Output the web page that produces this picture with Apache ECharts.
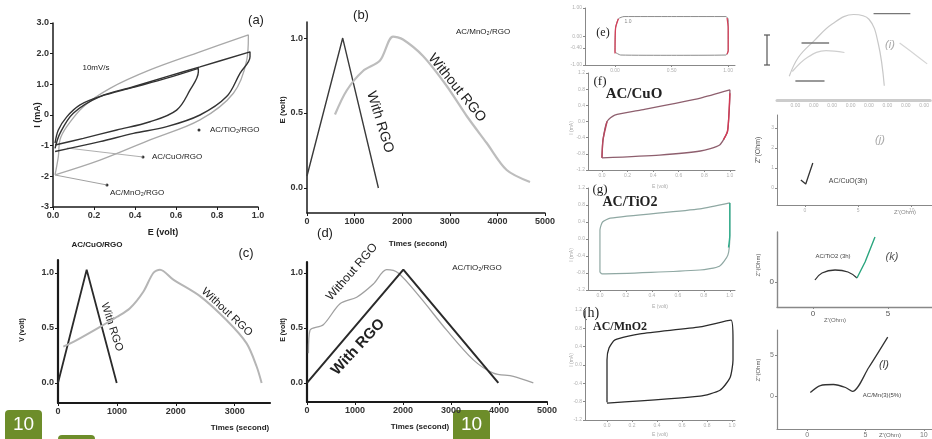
<!DOCTYPE html>
<html>
<head>
<meta charset="utf-8">
<script src="https://cdn.jsdelivr.net/npm/echarts@6/dist/echarts.min.js"></script>
<style>
html, body { margin: 0; background: #fff; }
#chart { width: 932px; height: 439px; }
</style>
</head>
<body>
<div id="chart"></div>
<script>
// (a) cyclic voltammograms at 10 mV/s, [E volt, I mA]
var cvTiO2 = [[0.01,-1.09],[0.034,-0.6],[0.099,0.06],[0.229,0.6],[0.392,0.92],[0.555,1.25],[0.717,1.57],[0.961,2.06],
  [0.961,1.9],[0.912,1.36],[0.847,0.6],[0.717,0],[0.555,-0.38],[0.392,-0.6],[0.229,-0.87],[0.01,-1.19]];
var cvCuO = [[0.01,-0.92],[0.026,-0.49],[0.067,-0.06],[0.132,0.33],[0.229,0.6],[0.392,0.9],[0.555,1.2],[0.709,1.52],
  [0.709,1.41],[0.668,0.81],[0.603,0.16],[0.473,-0.22],[0.311,-0.49],[0.148,-0.76],[0.01,-0.98]];
var cvMnO2 = [[0.01,-1.95],[0.026,-1.36],[0.034,-0.81],[0.067,-0.38],[0.148,0.27],[0.278,0.87],[0.473,1.47],[0.717,2.06],[0.953,2.61],
  [0.953,2.55],[0.945,1.79],[0.88,0.71],[0.717,-0.16],[0.473,-0.81],[0.229,-1.47],[0.01,-1.95]];

// (b) AC/MnO2/RGO charge-discharge, [time s, E volt]
var gcdMnO2With = [[0,0.08],[750,1.0],[1500,0.0]];
var gcdMnO2Without = [[588,0.49],[834,0.65],[1176,0.78],[1534,0.85],[1807,1.01],[2017,0.99],[2437,0.88],[2935,0.68],[3355,0.48],[3775,0.3],[4195,0.12],[4685,0.04]];

// (c) AC/CuO/RGO
var gcdCuOWith = [[0,0.0],[487,1.03],[997,0.0]];
var gcdCuOWithout = [[90,0.33],[317,0.39],[713,0.51],[997,0.6],[1222,0.68],[1449,0.83],[1618,1.0],[1732,1.03],[1958,0.94],[2411,0.79],[2864,0.57],[3203,0.36],[3373,0.15],[3458,0.0]];

// (d) AC/TiO2/RGO
var gcdTiO2With = [[0,0.0],[2007,1.03],[3986,0.0]];
var gcdTiO2Without = [[30,0.27],[63,0.48],[340,0.53],[688,0.72],[1035,0.78],[1382,0.9],[1660,1.03],[1900,1.0],[2354,0.78],[2910,0.48],[3465,0.21],[3882,0.09],[4299,0.06],[4715,0.0]];

// (e)-(h) CV loops, normalised current
var cvE = [[0,-0.55],[0.005,0.3],[0.03,0.62],[0.08,0.7],[0.5,0.7],[0.98,0.7],[1.0,0.6],[1.0,-0.5],[0.98,-0.65],[0.5,-0.66],[0.05,-0.65],[0,-0.55]];
var cvEleft = [[0,-0.6],[0.005,0.3],[0.03,0.62]];
var cvEright = [[0.99,0.65],[1.0,0.3],[1.0,-0.5],[0.99,-0.62]];
var cvF = [[0,-0.9],[0.008,-0.46],[0.04,0],[0.1,0.16],[0.3,0.28],[0.77,0.58],[1.0,0.78],[1.0,0.66],[0.99,0.04],[0.98,-0.26],[0.92,-0.58],[0.77,-0.73],[0.45,-0.83],[0,-0.9]];
var cvFright = [[1.0,0.7],[0.99,0.04],[0.98,-0.26],[0.95,-0.45]];
var cvFleft = [[0,-0.9],[0.008,-0.46],[0.04,0]];
var cvG = [[0,-0.78],[0,0.21],[0.02,0.4],[0.08,0.49],[0.77,0.71],[1.0,0.85],[1.0,0.09],[0.985,-0.38],[0.92,-0.64],[0.77,-0.73],[0.015,-0.82],[0,-0.78]];
var cvGright = [[1.0,0.85],[1.0,0.09],[0.99,-0.2]];
var cvH = [[0,-0.81],[0,0.11],[0.016,0.37],[0.064,0.55],[0.264,0.68],[0.744,0.83],[0.992,0.98],[1.008,0.55],[1.008,0.11],[0.984,-0.28],[0.904,-0.55],[0.744,-0.68],[0,-0.83]];

// (i)-(l) impedance traces
var trI1 = [[8,25],[14,45],[24,62],[36,80],[50,90],[60,85],[66,60],[70,15]];
var trI2 = [[10,30],[20,45],[32,52],[44,50]];
var trI3 = [[80,60],[90,48],[98,38]];
var barI = [[[16,60],[34,60]],[[12,20],[31,20]],[[63,91],[87,91]]];
var nyqJ = [[-0.37,0.4],[0.09,0.2],[0.37,0.65],[0.75,1.25]];
var nyqK = [[0.13,0.2],[0.6,0.9],[1.47,1.2],[2.33,1.0],[2.93,0.4]];
var nyqKtail = [[2.93,0.4],[3.47,2.0],[4.13,4.5]];
var nyqL = [[0.26,0.48],[1.12,1.31],[2.24,1.43],[3.28,1.07],[3.88,0.6],[5.26,3.45],[6.9,7.14]];

var grids = [], xAxes = [], yAxes = [], series = [];

function axis(cfg, i) {
  return {
    gridIndex: i, type: 'value', min: cfg.min, max: cfg.max,
    splitLine: { show: false },
    axisLine: { show: true, onZero: false, lineStyle: { color: cfg.color || '#1a1a1a', width: cfg.w || 1.5 } },
    axisTick: { show: !!cfg.ticks, customValues: cfg.ticks || [], length: cfg.tl || 3, lineStyle: { color: cfg.color || '#1a1a1a' } },
    axisLabel: {
      show: !!cfg.ticks, customValues: cfg.ticks || [], margin: cfg.margin || 4,
      fontSize: cfg.fs || 9, fontWeight: cfg.fw || 'bold', color: cfg.lc || '#333',
      fontFamily: 'Liberation Sans',
      formatter: function (v) { return cfg.fmt ? cfg.fmt(v) : String(v); }
    }
  };
}

function panel(box, x, y) {
  var i = grids.length;
  grids.push({ left: box[0], top: box[1], width: box[2], height: box[3] });
  xAxes.push(axis(x, i));
  yAxes.push(axis(y, i));
  return i;
}

function line(i, data, color, width, smooth) {
  series.push({
    type: 'line', xAxisIndex: i, yAxisIndex: i, data: data, showSymbol: false,
    smooth: smooth || 0, silent: true, lineStyle: { color: color, width: width }
  });
}

var fix1 = function (v) { return v.toFixed(1); };
var pa = panel([53, 23, 205, 184],
  { min: 0, max: 1, ticks: [0, 0.2, 0.4, 0.6, 0.8, 1.0], fmt: fix1 },
  { min: -3, max: 3, ticks: [-3, -2, -1, 0, 1, 2, 3], fmt: function (v) { return v > 0 ? v.toFixed(1) : String(v); } });
line(pa, cvMnO2, '#a9a9a9', 1.3, 0.35);
line(pa, cvTiO2, '#333', 1.4, 0.35);
line(pa, cvCuO, '#333', 1.4, 0.35);

var pb = panel([307, 22, 238, 191],
  { min: 0, max: 5000, ticks: [0, 1000, 2000, 3000, 4000, 5000] },
  { min: -0.167, max: 1.107, ticks: [0, 0.5, 1.0], fmt: fix1 });
line(pb, gcdMnO2With, '#3a3a3a', 1.4);
line(pb, gcdMnO2Without, '#bdbdbd', 2.2, 0.3);

var pc = panel([58, 260, 212, 143],
  { min: 0, max: 3600, ticks: [0, 1000, 2000, 3000], w: 2.2 },
  { min: -0.182, max: 1.118, ticks: [0, 0.5, 1.0], fmt: fix1, w: 2.2 });
line(pc, gcdCuOWith, '#2a2a2a', 1.8);
line(pc, gcdCuOWithout, '#b5b5b5', 2, 0.3);

var pd = panel([307, 262, 240, 140],
  { min: 0, max: 5000, ticks: [0, 1000, 2000, 3000, 4000, 5000], w: 2.2 },
  { min: -0.173, max: 1.1, ticks: [0, 0.5, 1.0], fmt: fix1, w: 2.2 });
line(pd, gcdTiO2Without, '#a0a0a0', 1.3, 0.3);
line(pd, gcdTiO2With, '#2a2a2a', 2);

var small = { fs: 5, fw: 'normal', lc: '#b0b0b0', color: '#888', w: 1, tl: 2, margin: 3 };
function sm(extra) { return Object.assign({}, small, extra); }
var f2 = function (v) { return v.toFixed(2); };

var pe = panel([585, 8, 150, 57],
  sm({ min: -0.265, max: 1.06, ticks: [0, 0.5, 1.0], fmt: f2 }),
  sm({ min: -1, max: 1, ticks: [-1, -0.4, 0, 1], fmt: f2 }));
line(pe, cvE, '#8c8c8c', 1, 0.2);
line(pe, cvEleft, '#d6405a', 1.3, 0.2);
line(pe, cvEright, '#d6405a', 1.3, 0.2);

var pf = panel([588, 73, 147, 97],
  sm({ min: -0.109, max: 1.04, ticks: [0, 0.2, 0.4, 0.6, 0.8, 1.0], fmt: fix1 }),
  sm({ min: -1.2, max: 1.2, ticks: [-1.2, -0.8, -0.4, 0, 0.4, 0.8, 1.2], fmt: fix1 }));
line(pf, cvF, '#8e5f6e', 1.3, 0.2);
line(pf, cvFright, '#d23a55', 1.4, 0.2);
line(pf, cvFleft, '#b8485f', 1.4, 0.2);

var pg = panel([588, 188, 147, 102],
  sm({ min: -0.092, max: 1.04, ticks: [0, 0.2, 0.4, 0.6, 0.8, 1.0], fmt: fix1 }),
  sm({ min: -1.2, max: 1.2, ticks: [-1.2, -0.8, -0.4, 0, 0.4, 0.8, 1.2], fmt: fix1 }));
line(pg, cvG, '#8fa8a3', 1.2, 0.2);
line(pg, cvGright, '#2fae8c', 1.4, 0.2);

var ph = panel([585, 310, 150, 110],
  sm({ min: -0.176, max: 1.024, ticks: [0, 0.2, 0.4, 0.6, 0.8, 1.0], fmt: fix1 }),
  sm({ min: -1.2, max: 1.2, ticks: [-1.2, -0.8, -0.4, 0, 0.4, 0.8, 1.2], fmt: fix1 }));
line(ph, cvH, '#2b2b2b', 1.3, 0.2);

var pi = panel([777, 5, 155, 95],
  sm({ min: 0, max: 100, ticks: [12, 24, 36, 48, 60, 72, 84, 96], fmt: function () { return '0.00'; }, w: 3, color: '#ccc' }),
  sm({ min: 0, max: 100, ticks: [], w: 0 }));
yAxes[pi].axisLine.show = false;
line(pi, trI1, '#c8c8c8', 1.2, 0.4);
line(pi, trI2, '#cfcfcf', 1.2, 0.4);
line(pi, trI3, '#d5d5d5', 1.2, 0.4);
barI.forEach(function (b) { line(pi, b, '#777', 1.3); });

var pj = panel([777, 115, 155, 90],
  sm({ min: -2.6, max: 11.9, ticks: [0, 5, 10] }),
  sm({ min: -0.85, max: 3.65, ticks: [0, 1, 2, 3] }));
line(pj, nyqJ, '#333', 1.3);

var pk = panel([777, 232, 155, 75],
  sm({ min: -2.4, max: 7.93, ticks: [0, 5], fs: 8, lc: '#555', w: 1.4 }),
  sm({ min: -2.5, max: 5, ticks: [0], fs: 8, lc: '#555', w: 1.4 }));
line(pk, nyqK, '#333', 1.3, 0.4);
line(pk, nyqKtail, '#2aa57e', 1.4);

var pl = panel([777, 330, 155, 100],
  sm({ min: -2.6, max: 10.7, ticks: [0, 5, 10], fs: 7, lc: '#777', w: 1.2 }),
  sm({ min: -3.93, max: 8, ticks: [0, 5], fs: 7, lc: '#777', w: 1.2 }));
line(pl, nyqL, '#333', 1.3, 0.3);

function txt(x, y, s, font, opt) {
  opt = opt || {};
  return {
    type: 'text', x: x, y: y, rotation: (opt.rot || 0) * Math.PI / 180, silent: true,
    style: { text: s, font: font, fill: opt.fill || '#222', align: opt.align || 'center', verticalAlign: 'middle' }
  };
}
function badge(x, y) {
  return {
    type: 'group', x: x, y: y, children: [
      { type: 'rect', shape: { x: 0, y: 0, width: 37, height: 32, r: 4 }, style: { fill: '#6d8d2a' } },
      { type: 'text', x: 18.5, y: 15, style: { text: '10', font: '19px Liberation Sans', fill: '#fff', align: 'center', verticalAlign: 'middle' } }
    ]
  };
}

var sans = 'Liberation Sans';
var graphics = [
  txt(256, 20, '(a)', '13px ' + sans),
  txt(96, 68, '10mV/s', '8px ' + sans),
  txt(38, 115, 'I (mA)', 'bold 9px ' + sans, { rot: 90 }),
  txt(163, 233, 'E (volt)', 'bold 9px ' + sans),
  { type: 'circle', shape: { cx: 199, cy: 130, r: 1.5 }, style: { fill: '#333' } },
  txt(210, 130, 'AC/TiO₂/RGO', '8px ' + sans, { align: 'left' }),
  { type: 'circle', shape: { cx: 143, cy: 157, r: 1.5 }, style: { fill: '#333' } },
  { type: 'line', shape: { x1: 67, y1: 148, x2: 143, y2: 157 }, style: { stroke: '#999', lineWidth: 0.8 } },
  txt(152, 157, 'AC/CuO/RGO', '8px ' + sans, { align: 'left' }),
  { type: 'circle', shape: { cx: 107, cy: 185, r: 1.5 }, style: { fill: '#333' } },
  { type: 'line', shape: { x1: 55, y1: 175, x2: 107, y2: 185 }, style: { stroke: '#888', lineWidth: 0.8 } },
  txt(110, 193, 'AC/MnO₂/RGO', '8px ' + sans, { align: 'left' }),

  txt(361, 15, '(b)', '13px ' + sans),
  txt(483, 32, 'AC/MnO₂/RGO', '8px ' + sans),
  txt(283, 110, 'E (volt)', 'bold 8px ' + sans, { rot: 90 }),
  txt(380, 122, 'With RGO', '14px ' + sans, { rot: -73 }),
  txt(457, 88, 'Without RGO', '14px ' + sans, { rot: -51 }),
  txt(418, 244, 'Times (second)', 'bold 8px ' + sans),

  txt(97, 245, 'AC/CuO/RGO', 'bold 8px ' + sans),
  txt(246, 253, '(c)', '13px ' + sans),
  txt(22, 330, 'V (volt)', 'bold 7px ' + sans, { rot: 90 }),
  txt(112, 327, 'With RGO', '11px ' + sans, { rot: -72 }),
  txt(227, 312, 'Without RGO', '11px ' + sans, { rot: -43 }),
  txt(240, 428, 'Times (second)', 'bold 8px ' + sans),

  txt(325, 233, '(d)', '13px ' + sans),
  txt(477, 268, 'AC/TiO₂/RGO', '8px ' + sans),
  txt(283, 330, 'E (volt)', 'bold 7px ' + sans, { rot: 90 }),
  txt(352, 272, 'Without RGO', '12px ' + sans, { rot: 49 }),
  txt(358, 347, 'With RGO', 'bold 15px ' + sans, { rot: 47 }),
  txt(420, 427, 'Times (second)', 'bold 8px ' + sans),

  txt(603, 33, '(e)', '12px Liberation Serif'),
  txt(628, 22, '1.0', '5px ' + sans, { fill: '#888' }),
  txt(600, 82, '(f)', '13px Liberation Serif'),
  txt(634, 94, 'AC/CuO', 'bold 15px Liberation Serif'),
  txt(600, 190, '(g)', '13px Liberation Serif'),
  txt(630, 202, 'AC/TiO2', 'bold 14px Liberation Serif'),
  txt(591, 313, '(h)', '14px Liberation Serif'),
  txt(620, 327, 'AC/MnO2', 'bold 12px Liberation Serif'),
  txt(572, 128, 'I (mA)', '5px ' + sans, { rot: 90, fill: '#aaa' }),
  txt(572, 255, 'I (mA)', '5px ' + sans, { rot: 90, fill: '#aaa' }),
  txt(572, 360, 'I (mA)', '5px ' + sans, { rot: 90, fill: '#aaa' }),
  txt(660, 187, 'E (volt)', '5px ' + sans, { fill: '#aaa' }),
  txt(660, 307, 'E (volt)', '5px ' + sans, { fill: '#aaa' }),
  txt(660, 435, 'E (volt)', '5px ' + sans, { fill: '#aaa' }),

  { type: 'line', shape: { x1: 767, y1: 35, x2: 767, y2: 65 }, style: { stroke: '#555', lineWidth: 1.2 } },
  { type: 'line', shape: { x1: 764, y1: 35, x2: 770, y2: 35 }, style: { stroke: '#555', lineWidth: 1.2 } },
  { type: 'line', shape: { x1: 764, y1: 65, x2: 770, y2: 65 }, style: { stroke: '#555', lineWidth: 1.2 } },
  txt(890, 45, '(i)', 'italic 11px ' + sans, { fill: '#aaa' }),
  txt(880, 140, '(j)', 'italic 11px ' + sans, { fill: '#aaa' }),
  txt(848, 181, 'AC/CuO(3h)', '7px ' + sans, { fill: '#444' }),
  txt(758, 150, 'Z″(Ohm)', '7px ' + sans, { rot: 90, fill: '#555' }),
  txt(905, 212, 'Z′(Ohm)', '6px ' + sans, { fill: '#888' }),
  txt(833, 256, 'AC/TiO2 (3h)', '6px ' + sans, { fill: '#444' }),
  txt(892, 257, '(k)', 'italic 11px ' + sans, { fill: '#555' }),
  txt(758, 265, 'Z″(Ohm)', '6px ' + sans, { rot: 90, fill: '#555' }),
  txt(835, 320, 'Z′(Ohm)', '6px ' + sans, { fill: '#666' }),
  txt(884, 365, '(l)', 'italic 11px ' + sans, { fill: '#444' }),
  txt(882, 395, 'AC/Mn(3)(5%)', '6px ' + sans, { fill: '#444' }),
  txt(758, 370, 'Z″(Ohm)', '6px ' + sans, { rot: 90, fill: '#555' }),
  txt(890, 435, 'Z′(Ohm)', '6px ' + sans, { fill: '#666' }),

  badge(5, 410),
  badge(58, 435),
  badge(453, 410)
];

var chart = echarts.init(document.getElementById('chart'));
chart.setOption({
  animation: false,
  backgroundColor: '#fff',
  grid: grids,
  xAxis: xAxes,
  yAxis: yAxes,
  series: series,
  graphic: graphics
});
</script>
</body>
</html>
